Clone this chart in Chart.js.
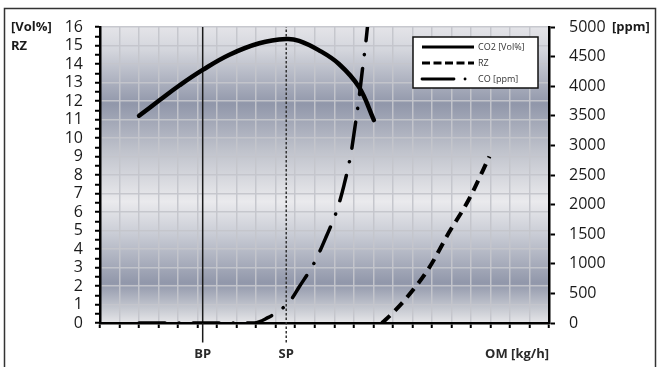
<!DOCTYPE html>
<html>
<head>
<meta charset="utf-8">
<script src="https://cdn.jsdelivr.net/npm/chart.js@4.4.1/dist/chart.umd.min.js"></script>
<style>
    html, body { margin: 0; padding: 0; background: #fff; }
    #wrap { width: 660px; height: 367px; position: relative; }
</style>
</head>
<body>
<div id="wrap"><canvas id="combustionChart"></canvas></div>
<script>
// Combustion diagram: CO2, RZ and CO against air flow OM

// X positions (grid units) and values
const co2X = [2.0, 3.06, 4.08, 5.26, 6.63, 8.16, 9.54, 10.2, 11.2, 12.24, 13.27, 14.03];
const co2Values = [11.2, 12.05, 12.85, 13.68, 14.5, 15.12, 15.35, 15.25, 14.75, 14.0, 12.75, 10.97];

const rzX = [14.44, 15.0, 15.66, 16.84, 17.86, 18.88, 19.95];
const rzValues = [0, 0.55, 1.3, 2.95, 4.86, 6.65, 9.0];

const coX = [2.0, 7.9, 8.6, 9.3, 9.8, 10.2, 10.97, 11.58, 12.14, 12.5, 12.86, 13.06, 13.27, 13.44, 13.62, 13.7];
const coValues = [0, 0, 90, 236, 400, 608, 1013, 1453, 1909, 2330, 2870, 3311, 3801, 4274, 4747, 5000];

// Marked points on the x axis
const markerLabels = ['BP', 'SP'];
const markerX = [5.26, 9.54];

const seriesLabels = ['CO2 [Vol%]', 'RZ', 'CO [ppm]'];

const gridColor = 'rgba(196, 197, 203, 0.95)';
const axisFont = { family: 'Open Sans', size: 16 };
const labelFont = { family: 'Open Sans', size: 13, weight: 'bold' };

const toPoints = (xs, ys) => xs.map((x, i) => ({ x, y: ys[i] }));

// Frame and banded background of the plot area
const backgroundBands = {
    id: 'backgroundBands',
    beforeDraw(chart) {
        const { ctx, chartArea: a } = chart;
        ctx.save();
        const g = ctx.createLinearGradient(0, a.top, 0, a.bottom);
        g.addColorStop(0, '#e4e4e8');
        g.addColorStop(0.08, '#d3d5dc');
        g.addColorStop(0.26, '#9197aa');
        g.addColorStop(0.42, '#c0c3cc');
        g.addColorStop(0.59, '#eaeaed');
        g.addColorStop(0.7, '#c9ccd5');
        g.addColorStop(0.865, '#9197aa');
        g.addColorStop(0.95, '#c5c8d0');
        g.addColorStop(1, '#e6e6e9');
        ctx.fillStyle = g;
        ctx.fillRect(a.left, a.top, a.right - a.left, a.bottom - a.top);

        ctx.strokeStyle = '#333';
        ctx.lineWidth = 1.5;
        ctx.strokeRect(4.5, 8.5, 651, 370);
        ctx.restore();
    }
};

// Unit labels and legend box
const annotations = {
    id: 'annotations',
    afterDraw(chart) {
        const { ctx, scales } = chart;
        ctx.save();
        ctx.fillStyle = '#1a1a1a';
        ctx.font = 'bold 13px "Open Sans"';
        ctx.textBaseline = 'middle';
        ctx.textAlign = 'left';
        ctx.fillText('[Vol%]', 11, scales.y.getPixelForValue(16));
        ctx.fillText('RZ', 11, scales.y.getPixelForValue(15) + 1);
        ctx.fillText('[ppm]', 612, scales.y1.getPixelForValue(5000));

        // Legend
        ctx.fillStyle = '#fff';
        ctx.fillRect(413, 37, 125, 51);
        ctx.strokeStyle = '#111';
        ctx.lineWidth = 1.5;
        ctx.strokeRect(413, 37, 125, 51);

        const dashes = [[], [8, 3.5], [32, 11, 0.1, 20]];
        const widths = [3.2, 3.2, 2.8];
        seriesLabels.forEach((label, i) => {
            const y = 47 + i * 16;
            ctx.beginPath();
            ctx.setLineDash(dashes[i]);
            ctx.lineCap = i === 2 ? 'round' : 'butt';
            ctx.lineWidth = widths[i];
            ctx.strokeStyle = '#000';
            ctx.moveTo(422, y);
            ctx.lineTo(474, y);
            ctx.stroke();
            ctx.setLineDash([]);
            ctx.fillStyle = '#333';
            ctx.font = '9px "Open Sans"';
            ctx.fillText(label, 478, y);
        });
        ctx.restore();
    }
};

// Create combustion chart
function createCombustionChart(canvasId) {
    const ctx = document.getElementById(canvasId);
    if (!ctx) return;

    const xTicks = [];
    for (let i = 0; i <= 23; i++) xTicks.push(i);
    const allXTicks = [...xTicks, ...markerX].sort((a, b) => a - b);
    const isMarker = v => markerX.includes(v);

    return new Chart(ctx, {
        type: 'line',
        data: {
            datasets: [
                {
                    label: seriesLabels[0],
                    data: toPoints(co2X, co2Values),
                    borderColor: '#000',
                    borderWidth: 4.5,
                    tension: 0.4,
                    borderCapStyle: 'round',
                    pointRadius: 0,
                    yAxisID: 'y'
                },
                {
                    label: seriesLabels[1],
                    data: toPoints(rzX, rzValues),
                    borderColor: '#000',
                    borderWidth: 4,
                    borderDash: [11, 7],
                    cubicInterpolationMode: 'monotone',
                    pointRadius: 0,
                    yAxisID: 'y'
                },
                {
                    label: seriesLabels[2],
                    data: toPoints(coX, coValues),
                    borderColor: '#000',
                    borderWidth: 3.5,
                    borderDash: [26, 14, 0.1, 14],
                    borderCapStyle: 'round',
                    cubicInterpolationMode: 'monotone',
                    pointRadius: 0,
                    yAxisID: 'y1'
                },
                {
                    label: markerLabels[0],
                    data: [{ x: markerX[0], y: -1.05 }, { x: markerX[0], y: 16 }],
                    borderColor: '#1a1a1a',
                    borderWidth: 1.5,
                    pointRadius: 0,
                    clip: false,
                    yAxisID: 'y'
                },
                {
                    label: markerLabels[1],
                    data: [{ x: markerX[1], y: -1.05 }, { x: markerX[1], y: 16 }],
                    borderColor: '#333',
                    borderWidth: 1.5,
                    borderDash: [2.5, 2],
                    pointRadius: 0,
                    clip: false,
                    yAxisID: 'y'
                }
            ]
        },
        options: {
            responsive: true,
            maintainAspectRatio: false,
            animation: false,
            layout: { padding: { top: 27, left: 0, right: 0, bottom: 0 } },
            plugins: {
                legend: { display: false },
                tooltip: { enabled: false }
            },
            scales: {
                x: {
                    type: 'linear',
                    min: 0,
                    max: 23,
                    afterBuildTicks: axis => { axis.ticks = allXTicks.map(v => ({ value: v })); },
                    afterFit: axis => { axis.height = 44; },
                    ticks: {
                        autoSkip: false,
                        maxRotation: 0,
                        padding: 18,
                        color: '#2a2a2a',
                        font: labelFont,
                        callback: v => {
                            const i = markerX.indexOf(v);
                            return i >= 0 ? markerLabels[i] : '';
                        }
                    },
                    grid: {
                        color: c => (c.tick && isMarker(c.tick.value)) ? 'transparent' : gridColor,
                        tickColor: c => (c.tick && isMarker(c.tick.value)) ? 'transparent' : '#000',
                        lineWidth: 1.5,
                        tickLength: 5,
                        tickWidth: 2
                    },
                    border: { color: '#000', width: 2.5 },
                    title: {
                        display: true,
                        text: 'OM [kg/h]',
                        align: 'end',
                        color: '#2a2a2a',
                        font: labelFont,
                        padding: { top: 0, bottom: 5 }
                    }
                },
                y: {
                    position: 'left',
                    min: 0,
                    max: 16,
                    afterFit: axis => { axis.width = 100; },
                    ticks: {
                        stepSize: 0.5,
                        autoSkip: false,
                        padding: 12,
                        color: '#1a1a1a',
                        font: axisFont,
                        callback: v => Number.isInteger(v) ? v : ''
                    },
                    grid: {
                        color: c => (c.tick && Number.isInteger(c.tick.value)) ? gridColor : 'transparent',
                        tickColor: '#000',
                        lineWidth: 1.5,
                        tickLength: 5,
                        tickWidth: 2
                    },
                    border: { color: '#000', width: 2.5 }
                },
                y1: {
                    position: 'right',
                    min: 0,
                    max: 5000,
                    afterFit: axis => { axis.width = 111; },
                    ticks: {
                        stepSize: 500,
                        padding: 14,
                        color: '#1a1a1a',
                        font: axisFont,
                        callback: v => String(v)
                    },
                    grid: {
                        drawOnChartArea: false,
                        tickColor: '#000',
                        tickLength: 6,
                        tickWidth: 2
                    },
                    border: { color: '#000', width: 2.5 }
                }
            }
        },
        plugins: [backgroundBands, annotations]
    });
}

createCombustionChart('combustionChart');
</script>
</body>
</html>
